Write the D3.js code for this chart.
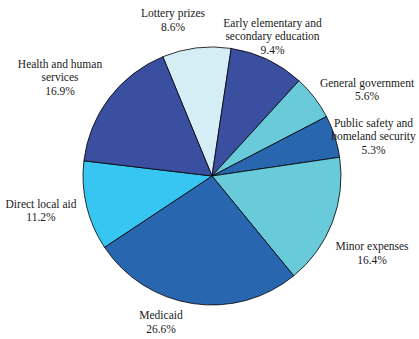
<!DOCTYPE html>
<html><head><meta charset="utf-8">
<script src="https://cdn.jsdelivr.net/npm/d3@7"></script>
<style>html,body{margin:0;padding:0;background:#fff;}svg{display:block;}
.lbl{font-family:"Liberation Serif","Times New Roman",Times,"Liberation Sans Narrow",serif;font-size:11.5px;fill:#1a1a1a;}</style>
</head><body>
<svg id="chart" width="419" height="339"></svg>
<script>
const categories = ["Lottery prizes","Early elementary and secondary education","General government","Public safety and homeland security","Minor expenses","Medicaid","Direct local aid","Health and human services"];
const values = [8.6, 9.4, 5.6, 5.3, 16.4, 26.6, 11.2, 16.9];
const labelLines = [["Lottery prizes"],["Early elementary and","secondary education"],["General government"],["Public safety and","homeland security"],["Minor expenses"],["Medicaid"],["Direct local aid"],["Health and human","services"]];
const colors = ["#d5eef5","#3b4fa1","#69cbda","#2966b0","#69cbda","#2966b0","#37c6f1","#3b4fa1"];

// x centre and y of the middle of each label block's baselines
const labelPos = [[173,24.2],[272.5,40],[367,93.5],[373.5,140],[372,257],[161,326],[41,214.5],[60,81]];

const svg = d3.select("#chart");
const cx = 212, cy = 176, r = 129;
const start = -22.4 * Math.PI / 180;
const pie = d3.pie().sort(null).value(d => d).startAngle(start).endAngle(start + 2*Math.PI);
const arc = d3.arc().innerRadius(0).outerRadius(r);
const g = svg.append("g").attr("transform", `translate(${cx},${cy})`);
g.selectAll("path").data(pie(values)).join("path")
  .attr("d", arc)
  .attr("fill", (d,i) => colors[i])
  .attr("stroke", "#000")
  .attr("stroke-width", 0.8)
  .attr("stroke-linejoin", "round");

const fmt = v => v.toFixed(1) + "%";
const lh = 13.5;
categories.forEach((c, i) => {
  const [x, ym] = labelPos[i];
  const lines = labelLines[i].concat([fmt(values[i])]);
  const y0 = ym - (lines.length - 1) * lh / 2;
  lines.forEach((ln, k) => {
    svg.append("text").attr("class", "lbl")
      .attr("x", x).attr("y", y0 + k*lh)
      .attr("text-anchor", "middle")
      .text(ln);
  });
});
</script>
</body></html>
